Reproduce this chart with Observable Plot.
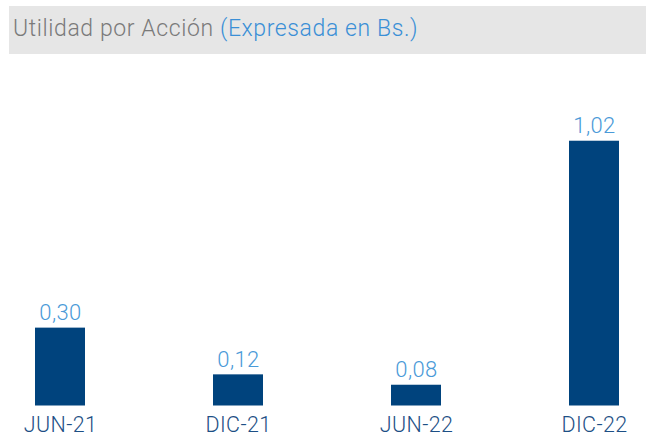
<!DOCTYPE html>
<html>
<head>
<meta charset="utf-8">
<script src="https://cdn.jsdelivr.net/npm/d3@7"></script>
<script src="https://cdn.jsdelivr.net/npm/@observablehq/plot@0.6"></script>
<style>
  html, body { margin: 0; padding: 0; background: #fff; width: 646px; height: 445px; overflow: hidden; }
  #title { margin: 6px 0 0 9px; height: 48px; background: #e6e6e6; box-sizing: border-box;
           padding-left: 4px; font-family: Roboto, sans-serif; font-weight: 300; font-size: 23px;
           line-height: 46px; color: #7a7a7a; white-space: nowrap; letter-spacing: 0.6px; }
  #title span { color: #3a8fd6; }
  #chart svg { display: block; }
</style>
</head>
<body>
<div id="title">Utilidad por Acción <span>(Expresada en Bs.)</span></div>
<div id="chart"></div>
<script>
const periods = ["JUN-21", "DIC-21", "JUN-22", "DIC-22"];
const values = [0.30, 0.12, 0.08, 1.02];

const data = periods.map((p, i) => ({period: p, value: values[i]}));
const fmt = v => v.toFixed(2).replace(".", ",");

const chart = Plot.plot({
  width: 646,
  height: 391,
  marginLeft: 8,
  marginRight: 0,
  marginTop: 40,
  marginBottom: 39.5,
  style: {fontFamily: "Roboto, sans-serif", fontWeight: 300, background: "transparent", letterSpacing: "0.4px"},
  x: {domain: periods, paddingInner: 0.72, paddingOuter: 0.15, label: null},
  y: {domain: [0, 1.2], axis: null},
  marks: [
    Plot.barY(data, {x: "period", y: "value", fill: "#00437d"}),
    Plot.text(data, {x: "period", y: "value", text: d => fmt(d.value), dy: -8, lineAnchor: "bottom",
      fill: "#4a9ad8", fontSize: 22, fontWeight: 300}),
    Plot.axisX({tickSize: 0, tickPadding: 11, fontSize: 21.5, color: "#1d4f85", label: null, fontWeight: 300})
  ]
});
document.getElementById("chart").appendChild(chart);
</script>
</body>
</html>
